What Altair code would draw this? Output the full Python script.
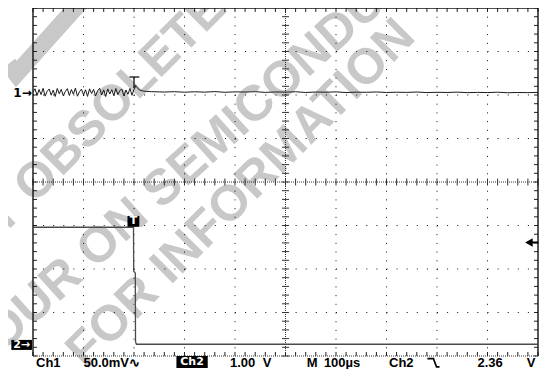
import altair as alt
import pandas as pd

# Ch1 : 50.0 mV/div, time in microseconds relative to the trigger (100 us/div)
ch1_pre_t = list(range(-200, 1, 4))
ch1_pre_mv = [0.8, 4.6, -3.0, 3.8, -2.0, 5.2, -3.8, 1.8, 4.4, -2.7,
              3.1, -4.2, 5.0, -1.1, 4.0, -3.4, 1.6, 4.8, -3.1, 3.8,
              -1.6, 5.4, -3.9, 1.3, 4.2, -2.3, 3.5, -4.1, 4.6, -0.9,
              3.9, -3.5, 2.5, 5.2, -2.5, 3.4, -4.3, 4.5, -1.4, 3.6,
              -3.2, 4.9, -2.1, 2.7, 4.3, -3.6, 3.2, -1.7, 5.0, -2.8, 4.1]
ch1_post_t = [2, 3, 5, 8, 12, 18, 25, 35, 50] + list(range(60, 801, 20))
ch1_post_mv = [5.5, 8.8, 7.2, 4.6, 3.0, 2.1, 1.6, 1.3, 1.1,
               0.9, 1.3, 0.7, 1.2, 0.8, 1.4, 0.6, 1.1, 0.9, 1.3,
               0.5, 1.0, 0.8, 1.2, 0.4, 0.9, 0.7, 1.1, 0.3, 0.8,
               0.6, 1.0, 0.4, 0.7, 0.5, 0.9, 0.3, 0.6, 0.4, 0.8,
               0.2, 0.5, 0.3, 0.7, 0.1, 0.4, 0.2, 0.5]
# Ch2 : 1.00 V/div
ch2_t = [-200, -1.0, -0.6, 2.6, 3.0, 4.8, 800]
ch2_v = [2.71, 2.71, 1.70, 1.66, 0.08, 0.02, 0.02]

CH1_MV_PER_DIV = 50.0
CH2_V_PER_DIV = 1.0
CH1_GROUND_DIV = 2.05
CH2_GROUND_DIV = -3.75
TRIGGER_LEVEL_V = 2.36

readout_labels = ["Ch1", "50.0mV", "\u223f", "1.00", "V", "M", "100\u00b5s", "Ch2", "2.36", "V"]
watermark_lines = ["PRODUCT OBSOLETE", "YOUR ON SEMICONDUCTOR", "FOR INFORMATION"]

# ---------------- scales ----------------
XS = alt.Scale(domain=[-200, 800], nice=False, zero=False)
YS = alt.Scale(domain=[-4, 4], nice=False, zero=False)


def X(f):
    return alt.X(f, type="quantitative", scale=XS, axis=None)


def Y(f):
    return alt.Y(f, type="quantitative", scale=YS, axis=None)


GREY_WM = "#c8c8c8"
layers = []

# ---------------- watermark ----------------
wm = pd.DataFrame({"text": watermark_lines,
                   "t": [-210.0, 180.0, 212.0],
                   "y": [-0.17, 1.14, -0.27],
                   "angle": [315, 318, 315]})
layers.append(alt.Chart(wm).mark_text(font="Liberation Sans", fontWeight="bold", fontSize=50,
                                      color=GREY_WM, align="center", baseline="middle")
              .encode(x=X("t"), y=Y("y"), text="text:N", angle=alt.Angle("angle:Q", scale=None)))
blob = pd.DataFrame({"t": [-248.7, -233.1, -116.2, -104.5], "y": [2.713, 2.483, 4.0, 4.138], "i": [0, 1, 2, 3]})
layers.append(alt.Chart(blob).mark_line(color=GREY_WM, strokeWidth=17, strokeCap="butt", strokeJoin="miter")
              .encode(x=X("t"), y=Y("y"), order="i:Q"))

# ---------------- graticule ----------------
minor_t = list(range(-200, 801, 20))
minor_y = [round(-4 + 0.2 * i, 2) for i in range(41)]

hgrid = pd.DataFrame({"y": [-3, -2, -1, 1, 2, 3], "t": -200, "t2": 800})
layers.append(alt.Chart(hgrid).mark_rule(color="#111", strokeWidth=1, strokeDash=[1, 9.1])
              .encode(x=X("t"), x2="t2:Q", y=Y("y")))
vgrid = pd.DataFrame({"t": [-100, 0, 100, 200, 400, 500, 600, 700], "y": 4, "y2": -4})
layers.append(alt.Chart(vgrid).mark_rule(color="#111", strokeWidth=1, strokeDash=[1, 7.7])
              .encode(x=X("t"), y=Y("y"), y2="y2:Q"))
# centre axes
layers.append(alt.Chart(pd.DataFrame({"y": [0], "t": [-200], "t2": [800]}))
              .mark_rule(color="#333", strokeWidth=1, strokeDash=[1, 1])
              .encode(x=X("t"), x2="t2:Q", y=Y("y")))
layers.append(alt.Chart(pd.DataFrame({"t": [300], "y": [4], "y2": [-4]}))
              .mark_rule(color="#333", strokeWidth=1, strokeDash=[1, 1])
              .encode(x=X("t"), y=Y("y"), y2="y2:Q"))
layers.append(alt.Chart(pd.DataFrame({"t": minor_t, "y": 0}))
              .mark_tick(orient="vertical", size=7, thickness=1, color="#333", opacity=1)
              .encode(x=X("t"), y=Y("y")))
layers.append(alt.Chart(pd.DataFrame({"t": 300, "y": minor_y}))
              .mark_tick(orient="horizontal", size=7, thickness=1, color="#333", opacity=1)
              .encode(x=X("t"), y=Y("y")))
# border ticks
layers.append(alt.Chart(pd.DataFrame({"t": minor_t, "y": 4}))
              .mark_tick(orient="vertical", size=4, thickness=1, color="#222", yOffset=2, opacity=1)
              .encode(x=X("t"), y=Y("y")))
layers.append(alt.Chart(pd.DataFrame({"t": minor_t, "y": -4}))
              .mark_tick(orient="vertical", size=4, thickness=1, color="#222", yOffset=-2, opacity=1)
              .encode(x=X("t"), y=Y("y")))
layers.append(alt.Chart(pd.DataFrame({"t": -200, "y": minor_y}))
              .mark_tick(orient="horizontal", size=4, thickness=1, color="#222", xOffset=2, opacity=1)
              .encode(x=X("t"), y=Y("y")))
layers.append(alt.Chart(pd.DataFrame({"t": 800, "y": minor_y}))
              .mark_tick(orient="horizontal", size=4, thickness=1, color="#222", xOffset=-2, opacity=1)
              .encode(x=X("t"), y=Y("y")))
# borders
borders = pd.DataFrame({"t": [-200, -200, 800], "t2": [800, -200, 800], "y": [4, 4, 4], "y2": [4, -4, -4]})
layers.append(alt.Chart(borders).mark_rule(color="#111", strokeWidth=1.4)
              .encode(x=X("t"), x2="t2:Q", y=Y("y"), y2="y2:Q"))
layers.append(alt.Chart(pd.DataFrame({"y": [-4], "t": [-200], "t2": [800]}))
              .mark_rule(color="#333", strokeWidth=1, strokeDash=[1, 1])
              .encode(x=X("t"), x2="t2:Q", y=Y("y")))

# ---------------- traces ----------------
ch1 = pd.DataFrame({"t": ch1_pre_t + ch1_post_t, "mv": ch1_pre_mv + ch1_post_mv})
ch1["i"] = range(len(ch1))
layers.append(alt.Chart(ch1)
              .transform_calculate(y=f"{CH1_GROUND_DIV} + datum.mv / {CH1_MV_PER_DIV}")
              .mark_line(color="#1a1a1a", strokeWidth=1)
              .encode(x=X("t"), y=Y("y"), order="i:Q"))
ch2 = pd.DataFrame({"t": ch2_t, "v": ch2_v})
ch2["i"] = range(len(ch2))
layers.append(alt.Chart(ch2)
              .transform_calculate(y=f"{CH2_GROUND_DIV} + datum.v / {CH2_V_PER_DIV}")
              .mark_line(color="#4a4a4a", strokeWidth=1.3)
              .encode(x=X("t"), y=Y("y"), order="i:Q"))

# ---------------- markers ----------------
tmark = pd.DataFrame({"t": [-9, 0], "t2": [10.5, 0], "y": [2.414, 2.414], "y2": [2.414, 2.161]})
layers.append(alt.Chart(tmark).mark_rule(color="#111", strokeWidth=1.3)
              .encode(x=X("t"), x2="t2:Q", y=Y("y"), y2="y2:Q"))
boxes = pd.DataFrame({"t": [-12.9, -242.9, 84.0], "t2": [10.5, -202.0, 146.0],
                      "y": [-0.78, -3.63, -4.0], "y2": [-1.03, -3.86, -4.276]})
layers.append(alt.Chart(boxes).mark_rect(color="#000")
              .encode(x=X("t"), x2="t2:Q", y=Y("y"), y2="y2:Q"))
box_text = pd.DataFrame({"text": ["T", "2\u2192", "Ch2"], "t": [-1.2, -222.5, 115.0],
                         "y": [-0.905, -3.745, -4.14]})
layers.append(alt.Chart(box_text).mark_text(color="white", font="DejaVu Sans", fontWeight="bold",
                                            fontSize=11, align="center", baseline="middle")
              .encode(x=X("t"), y=Y("y"), text="text:N"))
layers.append(alt.Chart(pd.DataFrame({"text": ["1\u2192"], "t": [-202.5], "y": [CH1_GROUND_DIV]}))
              .mark_text(color="#000", font="DejaVu Sans", fontWeight="bold", fontSize=12,
                         align="right", baseline="middle")
              .encode(x=X("t"), y=Y("y"), text="text:N"))
# trigger level arrow on the right edge
trig = pd.DataFrame({"t": [782.0], "y": [CH2_GROUND_DIV + TRIGGER_LEVEL_V / CH2_V_PER_DIV]})
layers.append(alt.Chart(trig).mark_point(shape="triangle-left", filled=True, size=75, color="#000", opacity=1)
              .encode(x=X("t"), y=Y("y")))
trig_stem = pd.DataFrame({"t": [786.0], "t2": [801.0], "y": [CH2_GROUND_DIV + TRIGGER_LEVEL_V / CH2_V_PER_DIV]})
layers.append(alt.Chart(trig_stem).mark_rule(color="#000", strokeWidth=2)
              .encode(x=X("t"), x2="t2:Q", y=Y("y")))

# ---------------- readout line ----------------
readout = pd.DataFrame({"text": readout_labels,
                        "t": [-194, -100, -9, 190, 272, 342, 376, 505, 680, 795],
                        "y": -4.25})
left_i = [0, 1, 2, 3, 5, 6, 7, 8]
right_i = [4, 9]
layers.append(alt.Chart(readout.iloc[left_i]).mark_text(color="#000", font="Liberation Sans", fontWeight="bold",
                                                        fontSize=13, align="left", baseline="alphabetic")
              .encode(x=X("t"), y=Y("y"), text="text:N"))
layers.append(alt.Chart(readout.iloc[right_i]).mark_text(color="#000", font="Liberation Sans", fontWeight="bold",
                                                         fontSize=13, align="right", baseline="alphabetic")
              .encode(x=X("t"), y=Y("y"), text="text:N"))
edge = pd.DataFrame({"t": [581.0, 593.0, 599.0, 605.0], "y": [-4.06, -4.06, -4.25, -4.25], "i": [0, 1, 2, 3]})
layers.append(alt.Chart(edge).mark_line(color="#000", strokeWidth=1.6)
              .encode(x=X("t"), y=Y("y"), order="i:Q"))

chart = (alt.layer(*layers)
         .properties(width=505, height=348,
                     padding={"left": 25, "top": 0, "right": 1, "bottom": 13},
                     autosize=alt.AutoSizeParams(type="none"))
         .configure_view(stroke=None))

chart.save("out.html", embed_options={"renderer": "svg", "actions": False})
